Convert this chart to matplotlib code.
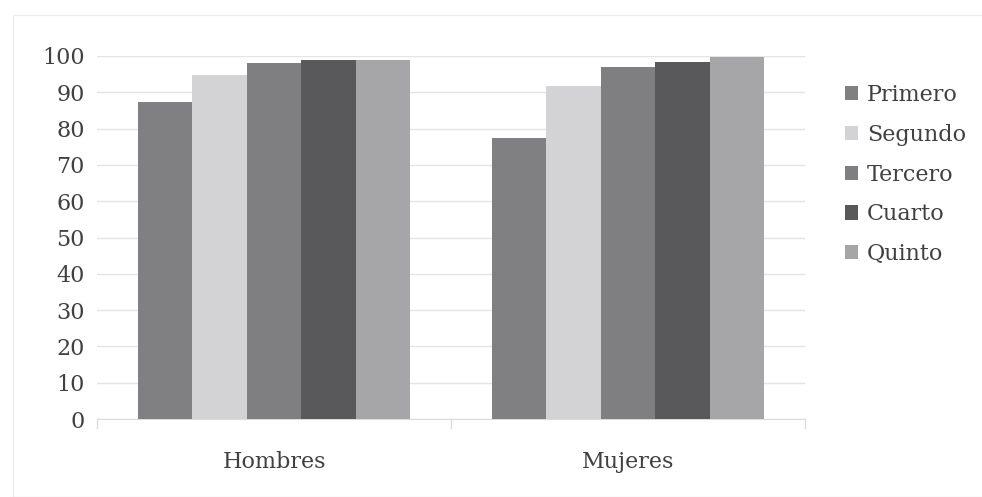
import matplotlib.pyplot as plt
import numpy as np
from matplotlib.patches import Rectangle

# data
groups = ["Hombres", "Mujeres"]
series = ["Primero", "Segundo", "Tercero", "Cuarto", "Quinto"]
primero = [87.3, 77.4]
segundo = [94.8, 91.7]
tercero = [98.1, 97.0]
cuarto = [98.9, 98.3]
quinto = [98.9, 99.7]
yticks = list(range(0, 101, 10))

values = [primero, segundo, tercero, cuarto, quinto]
colors = ["#808082", "#d3d3d5", "#7f7f81", "#59595b", "#a6a6a8"]

plt.rcParams["font.family"] = ["DejaVu Serif"]
text_color = "#404040"

fig = plt.figure(figsize=(9.82, 4.97), dpi=100)
fig.patches.append(Rectangle((13 / 982, 0), 1, 1 - 15 / 497, transform=fig.transFigure,
                             fill=False, edgecolor="#ececec", linewidth=1))
ax = fig.add_axes([97 / 982, 1 - 419 / 497, (805 - 97) / 982, (419 - 56) / 497])

n = len(series)
group_w = 0.77
bw = group_w / n
x = np.arange(len(groups))
handles = []
for i, (name, vals) in enumerate(zip(series, values)):
    pos = x - group_w / 2 + bw * (i + 0.5)
    h = ax.bar(pos, vals, width=bw, color=colors[i], label=name, zorder=3)
    handles.append(h)

ax.set_xlim(-0.5, len(groups) - 0.5)
ax.set_ylim(0, 100)
ax.set_yticks(yticks)
ax.set_yticklabels([str(t) for t in yticks], fontsize=16, color=text_color)
ax.yaxis.grid(True, color="#e4e4e4", linewidth=1, zorder=0)
ax.tick_params(axis="y", length=0, pad=9)

ax.set_xticks(x)
ax.set_xticklabels(groups, fontsize=16, color=text_color)
ax.tick_params(axis="x", length=0, pad=23)
# category separator ticks
for b in np.arange(-0.5, len(groups), 1.0):
    ax.plot([b, b], [0, -2.5], color="#dcdcdc", linewidth=1, clip_on=False)

for s in ["top", "right", "left"]:
    ax.spines[s].set_visible(False)
ax.spines["bottom"].set_color("#dcdcdc")

leg = fig.legend(handles=handles, labels=series, loc="upper left",
                 bbox_to_anchor=(825 / 982, 1 - 64 / 497), frameon=False,
                 fontsize=16, handlelength=0.6, handleheight=0.6,
                 handletextpad=0.4, labelspacing=0.8, labelcolor=text_color)

fig.savefig("out.png", dpi=100)
